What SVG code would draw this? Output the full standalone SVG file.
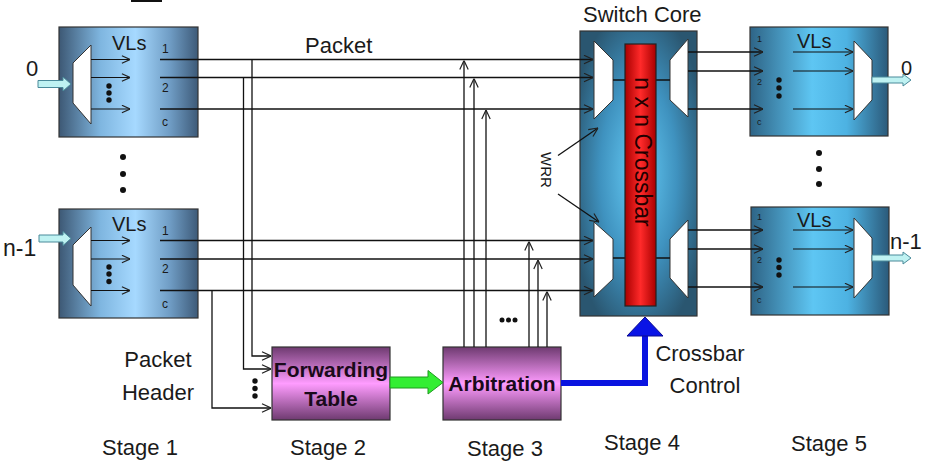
<svg xmlns="http://www.w3.org/2000/svg" width="935" height="464" viewBox="0 0 935 464">
<defs>
<linearGradient id="gIn" x1="0" y1="0" x2="1" y2="0">
<stop offset="0" stop-color="#3d5874"/><stop offset="0.3" stop-color="#7fb6e0"/><stop offset="0.55" stop-color="#a6d9ff"/><stop offset="0.8" stop-color="#6f9cc4"/><stop offset="1" stop-color="#3d5a78"/>
</linearGradient>
<linearGradient id="gOut" x1="0" y1="0" x2="1" y2="0">
<stop offset="0" stop-color="#2e6486"/><stop offset="0.45" stop-color="#5ec6f3"/><stop offset="0.7" stop-color="#4db2e2"/><stop offset="1" stop-color="#2b5a7a"/>
</linearGradient>
<radialGradient id="gCore" cx="0.5" cy="0.5" r="0.6" fx="0.5" fy="0.5">
<stop offset="0" stop-color="#66cdf7"/><stop offset="0.55" stop-color="#3f92bf"/><stop offset="1" stop-color="#2a5670"/>
</radialGradient>
<linearGradient id="gRed" x1="0" y1="0" x2="1" y2="0">
<stop offset="0" stop-color="#a80000"/><stop offset="0.5" stop-color="#ff2a2a"/><stop offset="1" stop-color="#a80000"/>
</linearGradient>
<linearGradient id="gPur" x1="0" y1="0" x2="0" y2="1">
<stop offset="0" stop-color="#6e3a70"/><stop offset="0.5" stop-color="#ff9cff"/><stop offset="1" stop-color="#6e3a70"/>
</linearGradient>
<marker id="ah" viewBox="0 0 10 10" refX="10" refY="5" markerWidth="10" markerHeight="10" markerUnits="userSpaceOnUse" orient="auto">
<path d="M1,0.8 L10,5 L1,9.2" fill="none" stroke="#222" stroke-width="1.2"/>
</marker>
<marker id="ahs" viewBox="0 0 10 10" refX="10" refY="5" markerWidth="9" markerHeight="9" markerUnits="userSpaceOnUse" orient="auto">
<path d="M1,0.8 L10,5 L1,9.2" fill="none" stroke="#222" stroke-width="1.3"/>
</marker>
</defs>
<style>
text{font-family:"Liberation Sans",Arial,sans-serif;fill:#1a1a1a}
.box{stroke:#333;stroke-width:1.2}
.mux{fill:#fff;stroke:#333;stroke-width:1}
.ln{fill:none;stroke:#111;stroke-width:1.3}
.arr{fill:none;stroke:#111;stroke-width:1.3;marker-end:url(#ah)}
.sarr{fill:none;stroke:#111;stroke-width:1.2;marker-end:url(#ahs)}
.dot{fill:#111}
.cy{fill:#bff2f2;stroke:#4a8a9a;stroke-width:1}
.big{font-size:22px}
.vl{font-size:20px}
.sm{font-size:12px}
.xs{font-size:9px}
.bold{font-size:21px;font-weight:bold;fill:#1a0a1a}
</style>
<rect x="131" y="0" width="31" height="2" fill="#111"/>

<g id="vl-in-0">
<rect class="box" x="59" y="27" width="139" height="110" fill="url(#gIn)"/>
<polygon class="mux" points="73,63 91,45 91,124 73,103"/>
<path class="sarr" d="M91,59.5 H130"/><path class="sarr" d="M91,77.5 H130"/><path class="sarr" d="M91,109 H130"/>
<circle class="dot" cx="109" cy="86" r="2.7"/><circle class="dot" cx="109" cy="93" r="2.7"/><circle class="dot" cx="109" cy="100" r="2.7"/>
<text class="vl" x="112" y="49.5">VLs</text>
<text class="sm" x="162" y="53">1</text><text class="sm" x="162" y="92">2</text><text class="sm" x="162" y="126">c</text>
<polygon class="cy" points="38,80.5 63,80.5 63,77 71,84 63,91 63,87.5 38,87.5"/>
<text class="big" x="26" y="76">0</text>
</g>

<g id="vl-in-n1">
<rect class="box" x="59" y="209" width="139" height="109" fill="url(#gIn)"/>
<polygon class="mux" points="73,245 91,227 91,306 73,285"/>
<path class="sarr" d="M91,240.5 H130"/><path class="sarr" d="M91,259 H130"/><path class="sarr" d="M91,290.5 H130"/>
<circle class="dot" cx="109" cy="267" r="2.7"/><circle class="dot" cx="109" cy="274" r="2.7"/><circle class="dot" cx="109" cy="281.5" r="2.7"/>
<text class="vl" x="112" y="231">VLs</text>
<text class="sm" x="162" y="235">1</text><text class="sm" x="162" y="273">2</text><text class="sm" x="162" y="307.5">c</text>
<polygon class="cy" points="39,235 63,235 63,231.5 71,238.5 63,245.5 63,242 39,242"/>
<text class="big" x="3" y="256" style="font-size:23px">n-1</text>
</g>

<g id="in-dots">
<circle class="dot" cx="123" cy="157" r="3"/><circle class="dot" cx="123" cy="174" r="3"/><circle class="dot" cx="123" cy="190" r="3"/>
</g>

<g id="switch-core">
<rect class="box" x="580" y="31" width="117" height="285" fill="url(#gCore)"/>
<polygon class="mux" points="594,41 613,60 613,100 594,119"/>
<polygon class="mux" points="594,222 613,239 613,279 594,297"/>
<polygon class="mux" points="670,60 688,39 688,117 670,100"/>
<polygon class="mux" points="670,239 688,220 688,298 670,278"/>
<path class="ln" d="M613,80 H626 M655,80 H670 M613,258 H626 M655,258 H670"/>
<rect x="625" y="44" width="31" height="262" fill="url(#gRed)" stroke="#222" stroke-width="1.2"/>
<text transform="translate(634.5,152) rotate(90)" text-anchor="middle" style="font-size:23px;fill:#220000">n x n Crossbar</text>
<text class="big" x="583" y="22">Switch Core</text>
</g>

<g id="vl-out-0">
<rect class="box" x="750" y="27" width="138" height="109" fill="url(#gOut)"/>
<polygon class="mux" points="854,41 872,60 872,100 854,120"/>
<path class="sarr" d="M793,52 H853"/><path class="sarr" d="M793,71 H853"/><path class="sarr" d="M793,109 H853"/>
<circle class="dot" cx="779" cy="80" r="2.7"/><circle class="dot" cx="779" cy="88" r="2.7"/><circle class="dot" cx="779" cy="96" r="2.7"/>
<text class="vl" x="797" y="47.5">VLs</text>
<text class="xs" x="757" y="42">1</text><text class="xs" x="757" y="85">2</text><text class="xs" x="757" y="125">c</text>
<polygon class="cy" points="872,77 903,77 903,74 911,80 903,86 903,83 872,83"/>
<text x="901" y="75" style="font-size:20px">0</text>
</g>

<g id="vl-out-n1">
<rect class="box" x="751" y="207" width="138" height="108" fill="url(#gOut)"/>
<polygon class="mux" points="854,218 872,238 872,278 854,298"/>
<path class="sarr" d="M793,230 H853"/><path class="sarr" d="M793,249 H853"/><path class="sarr" d="M793,287 H853"/>
<circle class="dot" cx="779" cy="260" r="2.7"/><circle class="dot" cx="779" cy="267.5" r="2.7"/><circle class="dot" cx="779" cy="275" r="2.7"/>
<text class="vl" x="797" y="227">VLs</text>
<text class="xs" x="757" y="220">1</text><text class="xs" x="757" y="263">2</text><text class="xs" x="757" y="303">c</text>
<polygon class="cy" points="872,255 903,255 903,252 911,258 903,264 903,261 872,261"/>
<text x="890" y="249" style="font-size:22px">n-1</text>
</g>

<g id="out-dots">
<circle class="dot" cx="819" cy="153" r="3"/><circle class="dot" cx="819" cy="169" r="3"/><circle class="dot" cx="819" cy="184" r="3"/>
</g>

<g id="fwd-table">
<rect class="box" x="272" y="347" width="118" height="73" fill="url(#gPur)"/>
<text class="bold" x="331" y="377" text-anchor="middle">Forwarding</text>
<text class="bold" x="331" y="406" text-anchor="middle">Table</text>
</g>

<g id="arbitration">
<rect class="box" x="443" y="347" width="118" height="73" fill="url(#gPur)"/>
<text class="bold" x="502" y="391" text-anchor="middle">Arbitration</text>
</g>

<g id="connectors">
<path class="arr" d="M160,59.5 H593"/><path class="arr" d="M160,77.5 H593"/><path class="arr" d="M160,109 H593"/>
<path class="arr" d="M160,240.5 H593"/><path class="arr" d="M160,259 H593"/><path class="arr" d="M160,290.5 H593"/>
<path class="arr" d="M688,52 H763"/><path class="arr" d="M688,71 H763"/><path class="arr" d="M688,109 H763"/>
<path class="arr" d="M688,230 H763"/><path class="arr" d="M688,249 H763"/><path class="arr" d="M688,287 H763"/>
<path class="arr" d="M252,59.5 V356 H271"/>
<path class="arr" d="M243.5,77.5 V369 H271"/>
<path class="arr" d="M212,290.5 V408 H271"/>
<path class="arr" d="M464,347 V60.5"/>
<path class="arr" d="M474,347 V78.5"/>
<path class="arr" d="M486,347 V110"/>
<path class="arr" d="M529,347 V241.5"/>
<path class="arr" d="M538,347 V260"/>
<path class="arr" d="M547,347 V291.5"/>
<path class="arr" d="M558,155.5 L598,128"/>
<path class="arr" d="M558,194 L599,222"/>
<polygon points="390,377 428,377 428,370.5 443,382.5 428,394 428,388 390,388" fill="#33ee33" stroke="#1f9a1f" stroke-width="1"/>
<path d="M561,383 H645 V334" fill="none" stroke="#0a14e0" stroke-width="6"/>
<polygon points="627,336 645,317 663,336" fill="#0a14e6" stroke="#0a0a90" stroke-width="1"/>
</g>

<g id="misc-dots">
<circle class="dot" cx="255" cy="381" r="2.7"/><circle class="dot" cx="255" cy="388.5" r="2.7"/><circle class="dot" cx="255" cy="396" r="2.7"/>
<circle class="dot" cx="502" cy="320" r="2.5"/><circle class="dot" cx="508.5" cy="320" r="2.5"/><circle class="dot" cx="515" cy="320" r="2.5"/>
</g>

<g id="labels">
<text class="big" x="305" y="53">Packet</text>
<text transform="translate(541,170) rotate(90)" text-anchor="middle" style="font-size:15px">WRR</text>
<text class="big" x="158" y="367" text-anchor="middle">Packet</text>
<text class="big" x="158" y="400" text-anchor="middle">Header</text>
<text class="big" x="700" y="361" text-anchor="middle">Crossbar</text>
<text class="big" x="705" y="393" text-anchor="middle">Control</text>
<text class="big" x="140" y="455" text-anchor="middle">Stage 1</text>
<text class="big" x="328" y="455" text-anchor="middle">Stage 2</text>
<text class="big" x="505" y="456" text-anchor="middle">Stage 3</text>
<text class="big" x="642" y="450" text-anchor="middle">Stage 4</text>
<text class="big" x="829" y="451" text-anchor="middle">Stage 5</text>
</g>
</svg>
